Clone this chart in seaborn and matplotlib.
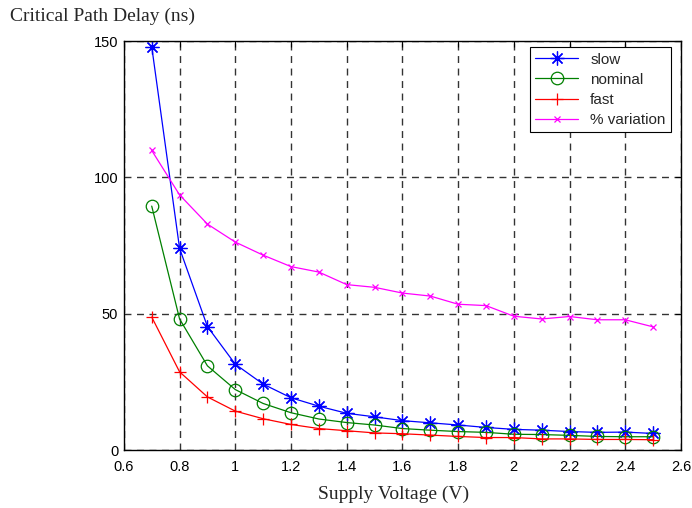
import numpy as np
import pandas as pd
import matplotlib
matplotlib.use("Agg")
import matplotlib.pyplot as plt
import seaborn as sns

voltage = [0.7, 0.8, 0.9, 1.0, 1.1, 1.2, 1.3, 1.4, 1.5, 1.6, 1.7, 1.8, 1.9, 2.0, 2.1, 2.2, 2.3, 2.4, 2.5]
slow = [148, 74, 45.3, 31.5, 24.2, 19.2, 16.1, 13.5, 12.2, 10.8, 10.0, 9.2, 8.3, 7.6, 7.3, 6.8, 6.5, 6.6, 6.1]
nominal = [89.5, 48.1, 30.9, 22.2, 17.1, 13.7, 11.4, 10.1, 9.2, 7.9, 7.3, 6.8, 6.5, 5.8, 5.7, 5.4, 5.0, 4.9, 4.9]
fast = [48.8, 28.7, 19.5, 14.3, 11.5, 9.4, 7.9, 7.1, 6.3, 6.0, 5.5, 5.0, 4.6, 4.6, 4.1, 4.1, 3.9, 3.9, 3.8]
variation = [109.9, 93.6, 82.9, 76.3, 71.5, 67.3, 65.3, 60.7, 59.7, 57.6, 56.5, 53.5, 53.0, 49.1, 48.1, 49.0, 47.8, 47.8, 45.2]

series_names = ["slow", "nominal", "fast", "% variation"]
xticks = [0.6, 0.8, 1.0, 1.2, 1.4, 1.6, 1.8, 2.0, 2.2, 2.4, 2.6]
xticklabels = ["0.6", "0.8", "1", "1.2", "1.4", "1.6", "1.8", "2", "2.2", "2.4", "2.6"]
yticks = [0, 50, 100, 150]

sns.set_style("white")
plt.rcParams['font.family'] = ['Liberation Sans', 'DejaVu Sans']

fig = plt.figure(figsize=(6.92, 5.08), dpi=100)
ax = fig.add_axes([0.179, 0.114, 0.805, 0.805])

styles = [
    dict(color="#0000ff", marker=(8, 2, 0), markersize=10, markeredgecolor="#0000ff"),
    dict(color="#008000", marker="o", markersize=9, markerfacecolor="none", markeredgecolor="#008000"),
    dict(color="#ff0000", marker="+", markersize=9, markeredgecolor="#ff0000"),
    dict(color="#ff00ff", marker="x", markersize=5, markeredgecolor="#ff00ff"),
]
for name, vals, st in zip(series_names, [slow, nominal, fast, variation], styles):
    sns.lineplot(x=voltage, y=vals, ax=ax, label=name, linewidth=0.9,
                 markeredgewidth=0.9, **st)

ax.set_xlim(0.6, 2.6)
ax.set_ylim(0, 150)
ax.set_xticks(xticks)
ax.set_xticklabels(xticklabels)
ax.set_yticks(yticks)
ax.tick_params(direction="in", top=True, right=True, labelsize=10.5, length=4, width=0.8, colors="black")
ax.tick_params(axis="x", pad=7)
ax.tick_params(axis="y", pad=4)
for s in ax.spines.values():
    s.set_color("black")
    s.set_linewidth(1.0)
ax.grid(True, color="0.2", linestyle=(0, (5, 4)), linewidth=1.0)
ax.set_axisbelow(True)

leg = ax.legend(loc="upper right", bbox_to_anchor=(0.982, 0.985), fontsize=11, frameon=True,
                fancybox=False, framealpha=1, edgecolor="black", borderpad=0.35,
                labelspacing=0.4, handlelength=2.8, handletextpad=0.8, borderaxespad=0.0)
leg.get_frame().set_linewidth(0.8)

ax.set_xlabel("")
ax.set_ylabel("")
fig.text(0.014, 0.958, "Critical Path Delay (ns)", fontsize=14, family=["Liberation Serif"], ha="left", va="baseline")
fig.text(0.569, 0.018, "Supply Voltage (V)", fontsize=14, family=["Liberation Serif"], ha="center", va="baseline")

fig.savefig("out.png", dpi=100)
